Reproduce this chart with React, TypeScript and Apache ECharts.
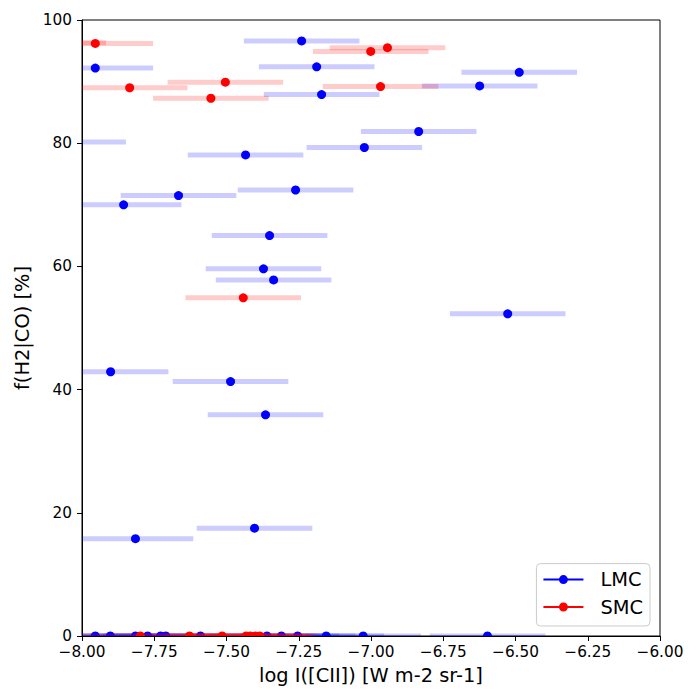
import React, { useEffect, useRef } from 'react';
import * as echarts from 'echarts';

// Data
const XERR = 0.2;

const lmcX = [
  -8.048, -7.954, -7.24, -7.188, -7.171, -7.023, -7.434, -7.261, -7.666, -7.856,
  -6.487, -6.624, -6.835, -7.351, -7.372, -7.337, -7.901, -7.486, -7.365, -7.815,
  -7.403, -6.527,
  -7.954, -7.902, -7.815, -7.773, -7.728, -7.71, -7.59, -7.36, -7.31, -7.254,
  -7.155, -7.027, -6.597,
];
const lmcY = [
  80.2, 92.2, 96.6, 92.4, 87.9, 79.3, 78.1, 72.4, 71.5, 70.0,
  91.5, 89.3, 81.9, 65.0, 59.6, 57.8, 42.9, 41.3, 35.9, 15.8,
  17.5, 52.3,
  0, 0, 0, 0, 0, 0, 0, 0, 0, 0,
  0, 0, 0,
];

const smcX = [
  -8.117, -7.954, -7.835, -7.504, -7.554, -7.001, -6.943, -6.967, -7.442,
  -7.798, -7.628, -7.515, -7.432, -7.418, -7.4, -7.385,
];
const smcY = [
  96.3, 96.2, 89.0, 89.9, 87.3, 94.9, 95.5, 89.2, 54.9,
  0, 0, 0, 0, 0, 0, 0,
];

const FONT = 'DejaVu Sans';
const ICON =
  'path://M0,4 L40,4 L40,6 L0,6 Z M15.5,5 A4.5,4.5 0 1,1 24.5,5 A4.5,4.5 0 1,1 15.5,5 Z';

const fmtX = (v: number) => (v < 0 ? '\u2212' : '') + Math.abs(v).toFixed(2);

function barSeries(name: string, xs: number[], ys: number[], color: string, solid: string) {
  return {
    name,
    type: 'custom',
    clip: true,
    silent: true,
    itemStyle: { color: solid },
    encode: { x: 0, y: 1 },
    data: xs.map((x, i) => [x, ys[i], XERR]),
    renderItem: (params: any, api: any) => {
      const x = api.value(0);
      const y = api.value(1);
      const e = api.value(2);
      const p1 = api.coord([x - e, y]);
      const p2 = api.coord([x + e, y]);
      return {
        type: 'line',
        shape: { x1: p1[0], y1: p1[1], x2: p2[0], y2: p2[1] },
        style: { stroke: color, lineWidth: 5 },
      };
    },
  };
}

function dotSeries(name: string, xs: number[], ys: number[], color: string) {
  return {
    name,
    type: 'custom',
    clip: true,
    silent: true,
    itemStyle: { color },
    encode: { x: 0, y: 1 },
    data: xs.map((x, i) => [x, ys[i]]),
    renderItem: (params: any, api: any) => {
      const p = api.coord([api.value(0), api.value(1)]);
      return {
        type: 'circle',
        shape: { cx: p[0], cy: p[1], r: 4.5 },
        style: { fill: color },
      };
    },
  };
}

export default function App() {
  const ref = useRef<HTMLDivElement>(null);
  useEffect(() => {
    if (!ref.current) return;
    const chart = echarts.init(ref.current, undefined, { renderer: 'svg' });
    chart.setOption({
      animation: false,
      backgroundColor: '#ffffff',
      textStyle: { fontFamily: FONT },
      grid: {
        left: 82,
        right: 40,
        top: 20,
        bottom: 64,
        show: true,
        borderColor: '#000000',
        borderWidth: 1,
        backgroundColor: 'transparent',
      },
      xAxis: {
        type: 'value',
        min: -8,
        max: -6,
        interval: 0.25,
        name: 'log I([CII]) [W m-2 sr-1]',
        nameLocation: 'middle',
        nameGap: 30,
        nameTextStyle: { fontFamily: FONT, fontSize: 19.4, color: '#000' },
        axisLine: { show: true, onZero: false, lineStyle: { color: '#000', width: 1 } },
        axisTick: { show: true, length: 5, lineStyle: { color: '#000', width: 1 } },
        axisLabel: {
          formatter: fmtX,
          fontFamily: FONT,
          fontSize: 15.3,
          color: '#000',
          margin: 8,
          showMinLabel: true,
          showMaxLabel: true,
        },
        splitLine: { show: false },
      },
      yAxis: {
        type: 'value',
        min: 0,
        max: 100,
        interval: 20,
        name: 'f(H2|CO) [%]',
        nameLocation: 'middle',
        nameGap: 50,
        nameTextStyle: { fontFamily: FONT, fontSize: 19.4, color: '#000' },
        axisLine: { show: true, onZero: false, lineStyle: { color: '#000', width: 1 } },
        axisTick: { show: true, length: 5, lineStyle: { color: '#000', width: 1 } },
        axisLabel: { fontFamily: FONT, fontSize: 15.3, color: '#000', margin: 10 },
        splitLine: { show: false },
      },
      legend: {
        orient: 'vertical',
        right: 50,
        bottom: 74,
        selectedMode: false,
        itemWidth: 40,
        itemHeight: 9,
        itemGap: 7.4,
        padding: [6, 7, 9, 7],
        borderColor: '#cccccc',
        borderWidth: 1,
        borderRadius: 4,
        backgroundColor: 'rgba(255,255,255,0.8)',
        textStyle: {
          fontFamily: FONT,
          fontSize: 19.4,
          color: '#000',
          lineHeight: 20,
          padding: [0, 0, 0, 12],
        },
        data: [
          { name: 'LMC', icon: ICON, itemStyle: { color: '#0000ff' } },
          { name: 'SMC', icon: ICON, itemStyle: { color: '#ff0000' } },
        ],
      },
      series: [
        barSeries('LMC', lmcX, lmcY, 'rgba(0,0,255,0.2)', '#0000ff'),
        dotSeries('LMC', lmcX, lmcY, '#0000ff'),
        barSeries('SMC', smcX, smcY, 'rgba(255,0,0,0.2)', '#ff0000'),
        dotSeries('SMC', smcX, smcY, '#ff0000'),
      ],
    });
    return () => chart.dispose();
  }, []);
  return (
    <div
      ref={ref}
      style={{ position: 'absolute', left: 0, top: 0, width: 700, height: 700 }}
    />
  );
}
